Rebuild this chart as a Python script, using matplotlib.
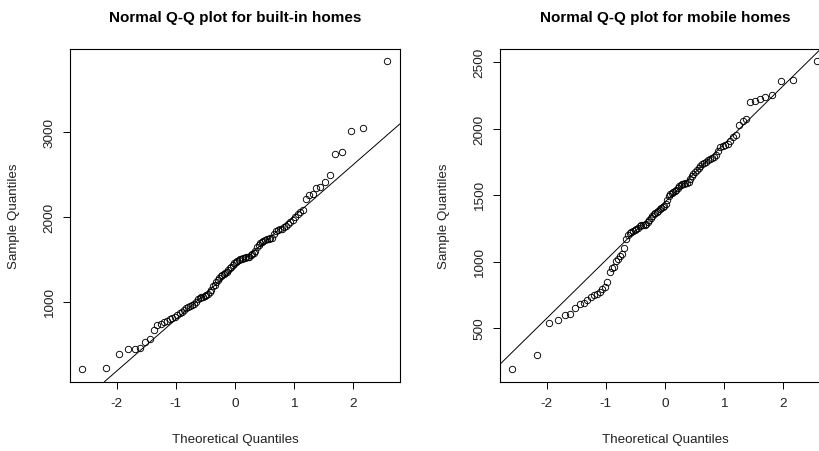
from statistics import NormalDist

import matplotlib

matplotlib.use("Agg")
import matplotlib.pyplot as plt
import numpy as np

plt.rcParams["font.family"] = ["Liberation Sans", "DejaVu Sans"]
plt.rcParams["axes.unicode_minus"] = False

# sorted sale prices, 100 homes per group
builtin_prices = [
    200, 222, 385, 435, 440, 455, 520, 555, 665, 720,
    735, 755, 770, 790, 805, 820, 840, 860, 875, 895,
    920, 935, 950, 955, 975, 990, 1030, 1040, 1050, 1055,
    1065, 1075, 1090, 1110, 1140, 1185, 1200, 1230, 1250, 1280,
    1300, 1310, 1320, 1335, 1350, 1370, 1390, 1410, 1430, 1450,
    1470, 1480, 1490, 1495, 1500, 1510, 1515, 1520, 1525, 1530,
    1545, 1555, 1570, 1600, 1640, 1660, 1685, 1700, 1710, 1720,
    1735, 1740, 1745, 1750, 1800, 1830, 1845, 1850, 1860, 1875,
    1890, 1910, 1940, 1960, 2000, 2030, 2060, 2080, 2205, 2255,
    2265, 2340, 2350, 2405, 2485, 2735, 2765, 3010, 3040, 3830,
]

mobile_prices = [
    190, 295, 537, 562, 597, 610, 652, 680, 692, 712,
    737, 750, 760, 770, 792, 810, 850, 922, 955, 962,
    1005, 1022, 1042, 1055, 1100, 1170, 1200, 1212, 1222, 1230,
    1235, 1247, 1255, 1267, 1272, 1275, 1278, 1282, 1295, 1310,
    1325, 1340, 1355, 1365, 1372, 1380, 1395, 1405, 1412, 1420,
    1435, 1460, 1495, 1510, 1515, 1522, 1530, 1540, 1550, 1565,
    1575, 1580, 1585, 1590, 1592, 1600, 1620, 1640, 1655, 1670,
    1685, 1700, 1715, 1730, 1740, 1750, 1760, 1770, 1778, 1785,
    1800, 1830, 1860, 1872, 1880, 1885, 1905, 1935, 1950, 2025,
    2060, 2075, 2200, 2205, 2220, 2235, 2255, 2360, 2362, 2505,
]

builtin_yticks = [1000, 2000, 3000]
mobile_yticks = [500, 1000, 1500, 2000, 2500]
xticks = [-2, -1, 0, 1, 2]


def qq_panel(ax, sample, title, yticks):
    sample = np.sort(np.asarray(sample, dtype=float))
    n = len(sample)
    norm = NormalDist()
    probs = (np.arange(1, n + 1) - 0.5) / n
    theo = np.array([norm.inv_cdf(p) for p in probs])

    ax.plot(theo, sample, linestyle="none", marker="o", ms=4.6,
            mfc="none", mec="black", mew=0.65)

    # reference line through the quartiles
    q1, q3 = np.quantile(sample, [0.25, 0.75])
    z1, z3 = norm.inv_cdf(0.25), norm.inv_cdf(0.75)
    slope = (q3 - q1) / (z3 - z1)
    ax.axline((z1, q1), slope=slope, color="black", lw=0.7)

    xr = theo.max() - theo.min()
    yr = sample.max() - sample.min()
    ax.set_xlim(theo.min() - 0.04 * xr, theo.max() + 0.04 * xr)
    ax.set_ylim(sample.min() - 0.04 * yr, sample.max() + 0.04 * yr)

    ax.set_xticks(xticks)
    ax.set_yticks(yticks)
    ax.tick_params(direction="out", length=5, width=0.7, labelsize=9.7,
                   pad=6, labelcolor="#222222")
    ax.tick_params(axis="y", labelrotation=90, pad=5.5)
    for lbl in ax.get_yticklabels():
        lbl.set_va("center")
    for sp in ax.spines.values():
        sp.set_linewidth(0.8)

    ax.set_xlabel("Theoretical Quantiles", fontsize=9.6, color="#222222")
    ax.set_ylabel("Sample Quantiles", fontsize=9.6, color="#222222")
    ax.xaxis.set_label_coords(0.5, -0.155)
    ax.yaxis.set_label_coords(-0.17, 0.5)
    ax.yaxis.label.set_va("center")

    ax.text(0.5, 1.096, title, transform=ax.transAxes, ha="center",
            va="center", fontsize=11, fontweight="bold")


fig = plt.figure(figsize=(8.2, 4.52), dpi=100)
ax1 = fig.add_axes([0.0857, 0.1533, 0.4017, 0.736])
ax2 = fig.add_axes([0.6101, 0.1533, 0.4017, 0.736])

qq_panel(ax1, builtin_prices, "Normal Q-Q plot for built-in homes",
         builtin_yticks)
qq_panel(ax2, mobile_prices, "Normal Q-Q plot for mobile homes",
         mobile_yticks)

fig.savefig("out.png", dpi=100)
